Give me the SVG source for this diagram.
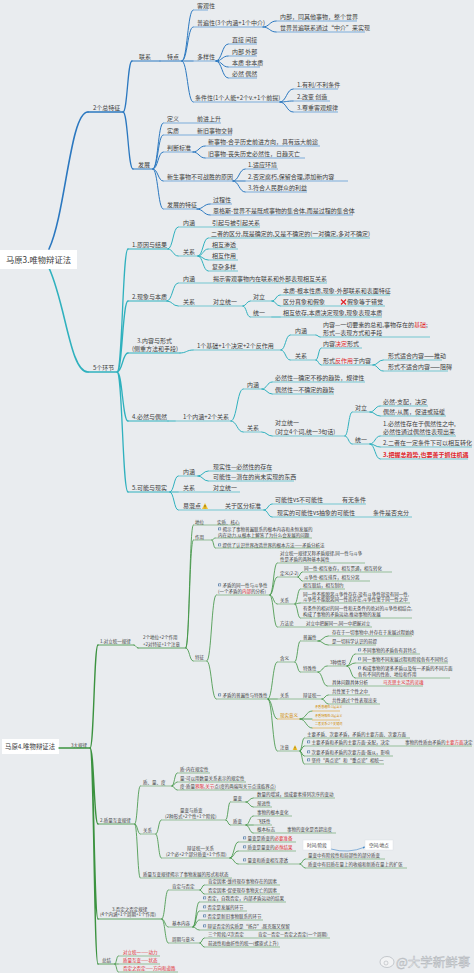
<svg xmlns="http://www.w3.org/2000/svg" width="474" height="973" viewBox="0 0 474 973">
<style>
text{font-family:"Noto Sans CJK SC","Noto Sans",sans-serif;fill:#3c3c3c}
.a{font-size:6px}
.b{font-size:4.5px}
.s{font-size:3.1px}
.r{fill:#e0262b}
.o{fill:#d18b00}
.cb,.ct,.cg{fill:none;stroke-linecap:round}
.cb{stroke:#2b78c0;stroke-width:1}
.ct{stroke:#2fb1be;stroke-width:1}
.cg{stroke:#3b923f;stroke-width:.8}
.ub{fill:none;stroke:#4f93d2;stroke-width:.7}
.ut{fill:none;stroke:#44b8c4;stroke-width:.7}
.ug{fill:none;stroke:#5fa35f;stroke-width:.6}
.uo{fill:none;stroke:#e0a12a;stroke-width:.6}
.wm{fill:#f3f4f5;stroke:#aeb2b7;stroke-width:.5}
</style>
<defs>
<symbol id="ic" viewBox="0 0 4 4"><rect x="0" y="0" width="4" height="4" rx=".5" fill="#5b7fa8"/><rect x="1" y="1" width="2" height="2" fill="#dfe6ee"/></symbol>
<symbol id="warn" viewBox="0 0 6 6"><polygon points="3,0 6,6 0,6" fill="#f0c02c"/><path d="M3 2V4.2M3 4.8V5.3" stroke="#5a4500" stroke-width=".7"/></symbol>
<marker id="ar" viewBox="0 0 6 6" refX="5" refY="3" markerWidth="4" markerHeight="4" orient="auto"><path d="M0 0L6 3L0 6z" fill="#3f87c9"/></marker>
</defs>
<rect width="474" height="973" fill="#e9ecef"/>

<g id="connectors">
<path class="cb" style="stroke-width:1.6" d="M49 249C66 212 70 112 88 112"/>
<path class="cb" style="stroke-width:1.3" d="M123 112C127.5 112 127.5 61 132 61M123 112C128 112 128 169 133 169"/>
<path class="cb" d="M182 61C187.5 61 187.5 10 193 10M182 61C187.5 61 187.5 27 193 27M182 61H193M182 61C187.5 61 187.5 102 193 102"/>
<path class="cb" d="M263 27C269.5 27 269.5 21 276 21M263 27C269.5 27 269.5 32 276 32"/>
<path class="cb" d="M216 61C222 61 222 44 228 44M216 61C222 61 222 56 228 56M216 61C222 61 222 67 228 67M216 61C222 61 222 78 228 78"/>
<path class="cb" d="M280 102C286.5 102 286.5 89 293 89M280 102C286.5 102 286.5 101 293 101M280 102C286.5 102 286.5 112 293 112"/>
<path class="cb" d="M153 169C158 169 158 123 163 123M153 169C158 169 158 135 163 135M153 169C158 169 158 152 163 152M153 169C158 169 158 181 163 181M153 169C158 169 158 209 163 209"/>
<path class="cb" d="M193 152C199 152 199 146 205 146M193 152C199 152 199 158 205 158"/>
<path class="cb" d="M233 181C239 181 239 169 245 169M233 181H245M233 181C239 181 239 192 245 192"/>
<path class="cb" d="M197 209C203.5 209 203.5 204 210 204M197 209C203.5 209 203.5 215 210 215"/>

<path class="ct" style="stroke-width:1.6" d="M49 268C66 305 70 372 88 372"/>
<path class="ct" style="stroke-width:1.3" d="M117 372C122.5 372 122.5 249 128 249M117 372C122.5 372 122.5 301 128 301M117 372C122.5 372 122.5 353 128 353M117 372C122.5 372 122.5 421 128 421M117 372C122.5 372 122.5 492 128 492"/>
<path class="ct" d="M168 249C173 249 173 227 178 227M168 249C173 249 173 256 178 256"/>
<path class="ct" d="M198 256C203 256 203 238 208 238M198 256C203 256 203 249 208 249M198 256C203 256 203 260 208 260M198 256C203 256 203 271 208 271"/>
<path class="ct" d="M167 301C172.5 301 172.5 283 178 283M167 301C172.5 301 172.5 306 178 306"/>
<path class="ct" d="M243 306C246.5 306 246.5 301 250 301M243 306C246.5 306 246.5 317 250 317"/>
<path class="ct" d="M272 301C276 301 276 295 280 295M272 301C276 301 276 306 280 306M272 317H280"/>
<path class="ct" d="M180 353C186.5 353 186.5 350 193 350"/>
<path class="ct" d="M281 350C285.5 350 285.5 335 290 335M281 350C285.5 350 285.5 360 290 360"/>
<path class="ct" d="M316 335C318 335 318 337 320 337M316 360C318.5 360 318.5 348 321 348M316 360C318.5 360 318.5 365 321 365"/>
<path class="ct" d="M373 365C378 365 378 360 383 360M373 365C378 365 378 371 383 371"/>
<path class="ct" d="M168 421H175M231 421C237 421 237 389 243 389M231 421C237 421 237 432 243 432"/>
<path class="ct" d="M262 389C267 389 267 382 272 382M262 389C267 389 267 394 272 394M262 432C267 432 267 436 272 436"/>
<path class="ct" d="M345 436C348.5 436 348.5 412 352 412M345 436C348.5 436 348.5 444 352 444"/>
<path class="ct" d="M370 412C375 412 375 406 380 406M370 412C375 412 375 416 380 416"/>
<path class="ct" d="M370 444C375 444 375 436 380 436M370 444C375 444 375 447 380 447M370 444C375 444 375 459 380 459"/>
<path class="ct" d="M170 492C174 492 174 476 178 476M170 492H178M170 492C174 492 174 510 178 510"/>
<path class="ct" d="M198 476C203 476 203 471 208 471M198 476C203 476 203 481 208 481"/>
<path class="ct" d="M264 510C268 510 268 504 272 504M264 510C268 510 268 517 272 517"/>

<path class="cg" style="stroke-width:1.4" d="M90 748C94 748 94 645 98 645M90 748C94 748 94 824 98 824M90 748C94 748 94 919 98 919M90 748C94 748 94 964 98 964"/>
<path class="cg" d="M134 645C136 645 136 648 138 648"/>
<path class="cg" d="M186 648C189.5 648 189.5 525 193 525M186 648C189.5 648 189.5 540 193 540M186 648C189.5 648 189.5 661 193 661"/>
<path class="cg" d="M212 540C213.5 540 213.5 538 215 538M212 540C213.5 540 213.5 548 215 548"/>
<path class="cg" d="M207 661C211.5 661 211.5 595 216 595M207 661C211.5 661 211.5 699 216 699"/>
<path class="cg" d="M270 595C273.5 595 273.5 563 277 563M270 595C273.5 595 273.5 577 277 577M270 595C273.5 595 273.5 604 277 604M270 595C273.5 595 273.5 627 277 627"/>
<path class="cg" d="M298 577C300 577 300 572 302 572M298 577C300 577 300 581 302 581"/>
<path class="cg" d="M295 604C297.5 604 297.5 589 300 589M295 604C297.5 604 297.5 603 300 603M295 604C297.5 604 297.5 618 300 618"/>
<path class="cg" d="M268 699C272.5 699 272.5 662 277 662M268 699H277M268 699C272.5 699 272.5 719 277 719M268 699C272.5 699 272.5 751 277 751"/>
<path class="cg" d="M295 662C297.5 662 297.5 641 300 641M295 662C297.5 662 297.5 672 300 672"/>
<path class="cg" d="M318 641C323 641 323 636 328 636M318 641C323 641 323 645 328 645"/>
<path class="cg" d="M318 672C322.5 672 322.5 666 327 666M318 672C322.5 672 322.5 686 327 686"/>
<path class="cg" d="M347 666C351 666 351 654 355 654M347 666C351 666 351 663 355 663M347 666C351 666 351 678 355 678"/>
<path class="cg" d="M322 699C325 699 325 695 328 695M322 699C325 699 325 704 328 704"/>
<path class="cg" d="M300 719C306 719 306 711 312 711M300 719H312M300 719C306 719 306 728 312 728"/>
<path class="cg" d="M300 751C302 751 302 738 304 738M300 751C302 751 302 746 304 746M300 751C302 751 302 756 304 756M300 751C302 751 302 764 304 764"/>
<path class="cg" d="M135 824C137.5 824 137.5 786 140 786M135 824C137.5 824 137.5 834 140 834M135 824C137.5 824 137.5 878 140 878"/>
<path class="cg" d="M172 786C174.5 786 174.5 773 177 773M172 786C174.5 786 174.5 782 177 782M172 786C174.5 786 174.5 790 177 790"/>
<path class="cg" d="M156 834C158.5 834 158.5 820 161 820M156 834C158.5 834 158.5 858 161 858"/>
<path class="cg" d="M226 820C228 820 228 802 230 802M226 820C228 820 228 825 230 825"/>
<path class="cg" d="M246 802C249.5 802 249.5 798 253 798M246 802C249.5 802 249.5 807 253 807"/>
<path class="cg" d="M246 825C249.5 825 249.5 816 253 816M246 825H253M246 825C249.5 825 249.5 833 253 833"/>
<path class="cg" d="M230 858C234 858 234 842 238 842M230 858C234 858 234 851 238 851M230 858C234 858 234 864 238 864"/>
<path class="cg" d="M300 864C302.5 864 302.5 859 305 859M300 864C302.5 864 302.5 868 305 868"/>
<path class="cg" d="M162 919C165 919 165 890 168 890M162 919C165 919 165 927 168 927M162 919C165 919 165 943 168 943"/>
<path class="cg" d="M200 890C202 890 202 885 204 885M200 890C202 890 202 894 204 894"/>
<path class="cg" d="M193 927C196 927 196 902 199 902M193 927C196 927 196 911 199 911M193 927C196 927 196 920 199 920M193 927C196 927 196 930 199 930"/>
<path class="cg" d="M200 943C202 943 202 938 204 938M200 943C202 943 202 947 204 947"/>
<path class="cg" d="M115 964C116.5 964 116.5 956 118 956M115 964H118M115 964C116.5 964 116.5 972 118 972"/>
<path fill="none" stroke="#3f87c9" stroke-width=".6" marker-end="url(#ar)" d="M331 849Q348 854 365 847"/>
</g>

<!-- ===== 马原3 ===== -->
<g id="title3"><rect x="0" y="250" width="77" height="19" fill="#fff"/><text x="6" y="262.5" font-size="8.3">马原3.唯物辩证法</text></g>
<g id="zongtezheng"><text class="a" x="93" y="110.2">2个总特征</text><path class="cb" style="stroke-width:1.3" d="M88 112H123"/></g>
<g id="lianxi"><text class="a" x="139" y="59">联系</text><path class="cb" d="M132 61H160"/></g>
<g id="tedian"><text class="a" x="167" y="59">特点</text><path class="cb" d="M160 61H182"/></g>
<g id="keguan"><text class="a" x="197" y="8">客观性</text><path class="ub" d="M193 10H208"/></g>
<g id="pubian"><text class="a" x="197" y="25">普遍性(3个内涵+1个中介)</text><path class="ub" d="M193 27H263"/></g>
<g id="pb1"><text class="a" x="280" y="19">内部，同其他事物，整个世界</text><path class="ub" d="M276 21H357"/></g>
<g id="pb2"><text class="a" x="280" y="30">世界普遍联系通过“中介”来实现</text><path class="ub" d="M276 32H365"/></g>
<g id="duoyang"><text class="a" x="197" y="59">多样性</text><path class="ub" d="M193 61H216"/></g>
<g id="dy1"><text class="a" x="232" y="42">直接 间接</text><path class="ub" d="M228 44H257"/></g>
<g id="dy2"><text class="a" x="232" y="54">内部 外部</text><path class="ub" d="M228 56H257"/></g>
<g id="dy3"><text class="a" x="232" y="65">本质 非本质</text><path class="ub" d="M228 67H260"/></g>
<g id="dy4"><text class="a" x="232" y="76">必然 偶然</text><path class="ub" d="M228 78H257"/></g>
<g id="tiaojian"><text class="a" x="195" y="100">条件性(1个人能+2个v.+1个前提)</text><path class="ub" d="M193 102H280"/></g>
<g id="tj1"><text class="a" x="297" y="87">1.有利/不利条件</text><path class="ub" d="M293 89H338"/></g>
<g id="tj2"><text class="a" x="297" y="99">2.改变 创造</text><path class="ub" d="M293 101H330"/></g>
<g id="tj3"><text class="a" x="297" y="110">3.尊重客观规律</text><path class="ub" d="M293 112H338"/></g>

<g id="fazhan"><text class="a" x="138" y="167">发展</text><path class="cb" d="M133 169H153"/></g>
<g id="dingyi"><text class="a" x="167" y="121">定义</text><path class="ub" d="M163 123H188"/></g>
<g id="dingyi1"><text class="a" x="197" y="121">前进上升</text><path class="ub" d="M188 123H221"/></g>
<g id="shizhi"><text class="a" x="167" y="133">实质</text><path class="ub" d="M163 135H188"/></g>
<g id="shizhi1"><text class="a" x="197" y="133">新旧事物交替</text><path class="ub" d="M188 135H232"/></g>
<g id="panduan"><text class="a" x="167" y="150">判断标准</text><path class="ub" d="M163 152H193"/></g>
<g id="pd1"><text class="a" x="208" y="144">新事物-合乎历史前进方向，具有远大前途</text><path class="ub" d="M205 146H320"/></g>
<g id="pd2"><text class="a" x="208" y="156">旧事物-丧失历史必然性，日趋灭亡</text><path class="ub" d="M205 158H305"/></g>
<g id="xinsheng"><text class="a" x="167" y="179">新生事物不可战胜的原因</text><path class="ub" d="M163 181H233"/></g>
<g id="xs1"><text class="a" x="248" y="167">1.适应环境</text><path class="ub" d="M245 169H278"/></g>
<g id="xs2"><text class="a" x="248" y="179">2.否定腐朽,保留合理,添加新内容</text><path class="ub" d="M245 181H348"/></g>
<g id="xs3"><text class="a" x="248" y="190">3.符合人民群众的利益</text><path class="ub" d="M245 192H307"/></g>
<g id="tezheng"><text class="a" x="167" y="207">发展的特征</text><path class="ub" d="M163 209H197"/></g>
<g id="tz1"><text class="a" x="213" y="202">过程性</text><path class="ub" d="M210 204H232"/></g>
<g id="tz2"><text class="a" x="213" y="213">恩格斯-世界不是既成事物的集合体,而是过程的集合体</text><path class="ub" d="M210 215H353"/></g>

<g id="huanjie"><text class="a" x="93" y="369.5">5个环节</text><path class="ct" style="stroke-width:1.3" d="M88 372H117"/></g>
<g id="yinguo"><text class="a" x="132" y="247">1.原因与结果</text><path class="ct" d="M128 249H168"/></g>
<g id="yg-nh"><text class="a" x="183" y="225">内涵</text><path class="ut" d="M178 227H205"/></g>
<g id="yg-nh1"><text class="a" x="212" y="225">引起与被引起关系</text><path class="ut" d="M205 227H260"/></g>
<g id="yg-gx"><text class="a" x="183" y="254">关系</text><path class="ut" d="M178 256H198"/></g>
<g id="yg1"><text class="a" x="211" y="236">二者的区分,既是确定的,又是不确定的(一对确定,多对不确定)</text><path class="ut" d="M208 238H370"/></g>
<g id="yg2"><text class="a" x="212" y="247">相互渗透</text><path class="ut" d="M208 249H238"/></g>
<g id="yg3"><text class="a" x="212" y="258">相互作用</text><path class="ut" d="M208 260H238"/></g>
<g id="yg4"><text class="a" x="212" y="269">复杂多样</text><path class="ut" d="M208 271H238"/></g>
<g id="xianxiang"><text class="a" x="132" y="299">2.现象与本质</text><path class="ct" d="M128 301H167"/></g>
<g id="xx-nh"><text class="a" x="183" y="281">内涵</text><path class="ut" d="M178 283H205"/></g>
<g id="xx-nh1"><text class="a" x="213" y="281">揭示客观事物内在联系和外部表现相互关系</text><path class="ut" d="M205 283H327"/></g>
<g id="xx-gx"><text class="a" x="183" y="304">关系</text><path class="ut" d="M178 306H205"/></g>
<g id="xx-dltyi"><text class="a" x="213" y="304">对立统一</text><path class="ut" d="M205 306H243"/></g>
<g id="xx-duili"><text class="a" x="253" y="299">对立</text><path class="ut" d="M250 301H272"/></g>
<g id="xx-dl1"><text class="a" x="283" y="293">本质-根本性质,现象-外部联系和表面特征</text><path class="ut" d="M280 295H390"/></g>
<g id="xx-dl2"><text class="a" x="283" y="304">区分真象和假象</text><path d="M341 299.5L346 304.5M346 299.5L341 304.5" stroke="#e0262b" stroke-width="1.3"/><text class="a" x="347" y="304">假象等于错觉</text><path class="ut" d="M280 306H385"/></g>
<g id="xx-tongyi"><text class="a" x="253" y="315">统一</text><path class="ut" d="M250 317H272"/></g>
<g id="xx-ty1"><text class="a" x="283" y="315">相互依存,本质决定现象,现象表现本质</text><path class="ut" d="M280 317H382"/></g>
<g id="neirong"><text class="a" x="137" y="343">3.内容与形式</text><text class="a" x="132" y="351">(侧重方法和手段)</text><path class="ct" d="M128 353H180"/></g>
<g id="nr-jichu"><text class="a" x="197" y="348">1个基础+1个决定+2个反作用</text><path class="ut" d="M193 350H281"/></g>
<g id="nr-nh"><text class="a" x="295" y="333">内涵</text><path class="ut" d="M290 335H316"/></g>
<g id="nr-nh1"><text class="a" x="323" y="327">内容—一切要素的总和,事物存在的<tspan class="r">基础</tspan>;</text><text class="a" x="323" y="335">形式—表现方式和手段</text><path class="ut" d="M320 337H430"/></g>
<g id="nr-gx"><text class="a" x="295" y="358">关系</text><path class="ut" d="M290 360H316"/></g>
<g id="nr-gx1"><text class="a" x="323" y="346">内容<tspan class="r">决定</tspan>形式</text><path class="ut" d="M321 348H362"/></g>
<g id="nr-gx2"><text class="a" x="323" y="363">形式<tspan class="r">反作用</tspan>于内容</text><path class="ut" d="M321 365H373"/></g>
<g id="nr-gx21"><text class="a" x="388" y="358">形式适合内容——推动</text><path class="ut" d="M383 360H442"/></g>
<g id="nr-gx22"><text class="a" x="388" y="369">形式不适合内容——阻碍</text><path class="ut" d="M383 371H448"/></g>
<g id="biran"><text class="a" x="132" y="419">4.必然与偶然</text><path class="ct" d="M128 421H168"/></g>
<g id="br-1"><text class="a" x="183" y="419">1个内涵+2个关系</text><path class="ut" d="M175 421H231"/></g>
<g id="br-nh"><text class="a" x="247" y="387">内涵</text><path class="ut" d="M243 389H262"/></g>
<g id="br-nh1"><text class="a" x="275" y="380">必然性—确定不移的趋势，规律性</text><path class="ut" d="M272 382H365"/></g>
<g id="br-nh2"><text class="a" x="275" y="392">偶然性—不确定的趋势</text><path class="ut" d="M272 394H334"/></g>
<g id="br-gx"><text class="a" x="247" y="430">关系</text><path class="ut" d="M243 432H262"/></g>
<g id="br-dlty"><text class="a" x="275" y="425">对立统一</text><text class="a" x="275" y="434">(对立4个词,统一3句话)</text><path class="ut" d="M272 436H345"/></g>
<g id="br-duili"><text class="a" x="355" y="410">对立</text><path class="ut" d="M352 412H370"/></g>
<g id="br-dl1"><text class="a" x="383" y="404">必然-支配，决定</text><path class="ut" d="M380 406H428"/></g>
<g id="br-dl2"><text class="a" x="383" y="414">偶然-从属，促进或延缓</text><path class="ut" d="M380 416H446"/></g>
<g id="br-tongyi"><text class="a" x="355" y="442">统一</text><path class="ut" d="M352 444H370"/></g>
<g id="br-ty1"><text class="a" x="383" y="426">1.必然性存在于偶然性之中,</text><text class="a" x="383" y="434">必然性通过偶然性表现出来</text><path class="ut" d="M380 436H456"/></g>
<g id="br-ty2"><text class="a" x="383" y="445">2.二者在一定条件下可以相互转化</text><path class="ut" d="M380 447H472"/></g>
<g id="br-ty3"><text class="a r" x="383" y="457" font-weight="bold">3.把握总趋势,也要善于抓住机遇</text><path class="ut" d="M380 459H468"/></g>
<g id="keneng"><text class="a" x="132" y="490">5.可能与现实</text><path class="ct" d="M128 492H170"/></g>
<g id="kn-nh"><text class="a" x="183" y="474">内涵</text><path class="ut" d="M178 476H198"/></g>
<g id="kn-nh1"><text class="a" x="213" y="469">现实性—必然性的存在</text><path class="ut" d="M208 471H272"/></g>
<g id="kn-nh2"><text class="a" x="213" y="479">可能性—潜在的尚未实现的东西</text><path class="ut" d="M208 481H294"/></g>
<g id="kn-gx"><text class="a" x="183" y="490">关系</text><path class="ut" d="M178 492H205"/></g>
<g id="kn-gx1"><text class="a" x="213" y="490">对立统一</text><path class="ut" d="M205 492H240"/></g>
<g id="kn-yh"><text class="a" x="183" y="508">易混点</text><use href="#warn" x="202" y="503" width="6" height="6"/><path class="ut" d="M178 510H212"/></g>
<g id="kn-yh1"><text class="a" x="225" y="508">关于区分标准</text><path class="ut" d="M212 510H264"/></g>
<g id="kn-yh2"><text class="a" x="275" y="502">可能性vs不可能性</text><text class="a" x="342" y="502">有无条件</text><path class="ut" d="M272 504H366"/></g>
<g id="kn-yh3"><text class="a" x="277" y="515">现实的可能性vs抽象的可能性</text><text class="a" x="373" y="515">条件是否充分</text><path class="ut" d="M272 517H412"/></g>

<!-- ===== 马原4 ===== -->
<g id="title4"><rect x="2" y="739" width="57" height="15" fill="#fff"/><text x="5" y="749" font-size="6.4">马原4.唯物辩证法</text></g>
<g id="guilv"><text class="b" x="71" y="746.6">3大规律</text><path class="cg" style="stroke-width:1.4" d="M59 748H90"/></g>
<g id="dlty"><text class="b" x="100" y="642.6">1.对立统一规律</text><path class="cg" d="M98 645H134"/></g>
<g id="dlty-sum"><text class="b" x="143" y="638.6">2个地位+2个作用</text><text class="b" x="143" y="645.6">+2对特征+1个注意</text><path class="cg" d="M138 648H186"/></g>
<g id="diwei"><text class="b" x="195" y="523.6">地位</text><path class="ug" d="M193 525H212"/></g>
<g id="diwei1"><text class="b" x="217" y="523.6">实质、核心</text><path class="ug" d="M212 525H240"/></g>
<g id="zuoyong"><text class="b" x="195" y="538.6">作用</text><path class="ug" d="M193 540H212"/></g>
<g id="zy1"><use href="#ic" x="218" y="527.3" width="3.3" height="3.3"/><text class="b" x="222.5" y="530.6">揭示了事物普遍联系的根本内容和永恒发展的</text><text class="b" x="218" y="536.6">内在动力,从根本上解答了为什么会发展的问题</text><path class="ug" d="M215 538H312"/></g>
<g id="zy2"><use href="#ic" x="218" y="543.3" width="3.3" height="3.3"/><text class="b" x="222.5" y="546.6">提供了认识世界改造世界的根本方法——矛盾分析法</text><path class="ug" d="M215 548H320"/></g>
<g id="tz"><text class="b" x="195" y="658.6">特征</text><path class="ug" d="M193 661H207"/></g>
<g id="tongyixing"><use href="#ic" x="218" y="583.3" width="3.3" height="3.3"/><text class="b" x="222.5" y="586.6">矛盾的同一性与斗争性</text><text class="b" x="218" y="592.6">(一个矛盾的<tspan class="r">内部</tspan>的分析)</text><path class="ug" d="M216 595H270"/></g>
<g id="ty-def0"><text class="b" x="280" y="554.6">对立统一规律又称矛盾规律,同一性与斗争</text><text class="b" x="280" y="560.6">性是矛盾的两种基本属性</text><path class="ug" d="M277 563H365"/></g>
<g id="ty-def"><text class="b" x="280" y="574.6">定义(2-2)</text><path class="ug" d="M277 577H298"/></g>
<g id="ty-def1"><text class="b" x="304" y="569.6">同一性-相互依存，相互贯通，相互转化</text><path class="ug" d="M302 572H392"/></g>
<g id="ty-def2"><text class="b" x="304" y="578.6">斗争性-相互排斥，相互分离</text><path class="ug" d="M302 581H370"/></g>
<g id="ty-gx"><text class="b" x="280" y="601.6">关系</text><path class="ug" d="M277 604H295"/></g>
<g id="ty-gx1"><text class="b" x="303" y="586.6">相互联结，相互制约</text><path class="ug" d="M300 589H345"/></g>
<g id="ty-gx2"><text class="b" x="303" y="595.6">同一性不能脱离斗争性存在,没有斗争性就没有同一性,</text><text class="b" x="303" y="601.1">斗争性不能脱离同一性而存在,斗争性寓于同一性之中</text><path class="ug" d="M300 603H410"/></g>
<g id="ty-gx3"><text class="b" x="303" y="609.6">有条件的相对的同一性和无条件的绝对的斗争性相结合,</text><text class="b" x="303" y="615.6">构成了事物的矛盾运动,推动事物的发展</text><path class="ug" d="M300 618H412"/></g>
<g id="ty-ff"><text class="b" x="280" y="624.6">方法论</text><path class="ug" d="M277 627H300"/></g>
<g id="ty-ff1"><text class="b" x="306" y="624.6">对立中把握同一,同一中把握对立</text><path class="ug" d="M300 627H372"/></g>
<g id="pubianxing"><use href="#ic" x="218" y="693.3" width="3.3" height="3.3"/><text class="b" x="222.5" y="696.6">矛盾的普遍性与特殊性</text><path class="ug" d="M216 699H268"/></g>
<g id="pb-hy"><text class="b" x="280" y="659.6">含义</text><path class="ug" d="M277 662H295"/></g>
<g id="pb-pb"><text class="b" x="303" y="638.6">普遍性</text><path class="ug" d="M300 641H318"/></g>
<g id="pb-pb1"><text class="b" x="332" y="633.6">存在于一切事物中,并存在于发展过程始终</text><path class="ug" d="M328 636H412"/></g>
<g id="pb-pb2"><text class="b" x="332" y="642.6">是一切科学认识的前提</text><path class="ug" d="M328 645H376"/></g>
<g id="pb-ts"><text class="b" x="303" y="669.6">特殊性</text><path class="ug" d="M300 672H318"/></g>
<g id="pb-ts3"><text class="b" x="330" y="663.6">3种情形</text><path class="ug" d="M327 666H347"/></g>
<g id="pb-ts31"><use href="#ic" x="358" y="648.3" width="3.3" height="3.3"/><text class="b" x="362.5" y="651.6">不同事物的矛盾各有其特点</text><path class="ug" d="M355 654H420"/></g>
<g id="pb-ts32"><use href="#ic" x="358" y="657.3" width="3.3" height="3.3"/><text class="b" x="362.5" y="660.6">同一事物不同发展过程和阶段各有不同特点</text><path class="ug" d="M355 663H448"/></g>
<g id="pb-ts33"><use href="#ic" x="358" y="666.3" width="3.3" height="3.3"/><text class="b" x="362.5" y="669.6">构成事物的诸多矛盾以及每一矛盾的不同方面</text><text class="b" x="358" y="675.6">各有不同的性质、地位和作用</text><path class="ug" d="M355 678H450"/></g>
<g id="pb-jt"><text class="b" x="332" y="683.6">具体问题具体分析</text><text class="b r" x="383" y="683.6">马克思主义活的灵魂</text><path class="ug" d="M327 686H423"/></g>
<g id="pb-gx"><text class="b" x="280" y="696.6">关系</text><path class="ug" d="M277 699H297"/></g>
<g id="pb-gx0"><text class="b" x="303" y="696.6">辩证统一</text><path class="ug" d="M297 699H322"/></g>
<g id="pb-gx1"><text class="b" x="332" y="692.6">共性寓于个性之中</text><path class="ug" d="M328 695H370"/></g>
<g id="pb-gx2"><text class="b" x="332" y="701.6">共性通过个性表现出来</text><path class="ug" d="M328 704H380"/></g>
<g id="pb-yy"><text class="b o" x="280" y="716.6">现实意义</text><path class="uo" d="M277 719H300"/></g>
<g id="pb-yy1"><text class="s o" x="315" y="708.2">矛盾普遍性:1层含义</text><path class="uo" d="M312 711H340"/></g>
<g id="pb-yy2"><text class="s o" x="315" y="717.2">矛盾特殊性:3层含义</text><path class="uo" d="M312 720H340"/></g>
<g id="pb-yy3"><text class="s o" x="315" y="725.2">二者关系:2个关键词</text><path class="uo" d="M312 728H340"/></g>
<g id="pb-zy"><text class="b" x="280" y="748.6">注意</text><use href="#warn" x="292.5" y="745" width="5" height="5"/><path class="ug" d="M277 751H300"/></g>
<g id="zy-1"><text class="b" x="307" y="735.6">主要矛盾、次要矛盾，矛盾的主要方面、次要方面</text><path class="ug" d="M304 738H410"/></g>
<g id="zy-2"><use href="#ic" x="307" y="740.3" width="3.3" height="3.3"/><text class="b" x="311.5" y="743.6">主要矛盾和矛盾的主要方面-支配，决定</text><text class="b" x="405" y="743.6">事物的性质由矛盾的<tspan class="r">主要方面</tspan>决定</text><path class="ug" d="M304 746H472"/></g>
<g id="zy-3"><use href="#ic" x="307" y="750.3" width="3.3" height="3.3"/><text class="b" x="311.5" y="753.6">次要矛盾和矛盾的次要方面-服从，影响</text><path class="ug" d="M304 756H393"/></g>
<g id="zy-4"><use href="#ic" x="307" y="758.3" width="3.3" height="3.3"/><text class="b" x="311.5" y="761.6">坚持“两点论”和“重点论”相统一</text><path class="ug" d="M304 764H384"/></g>

<g id="zlhb"><text class="b" x="100" y="821.6">2.质量互变规律</text><path class="cg" d="M98 824H135"/></g>
<g id="zld"><text class="b" x="143" y="783.6">质、量、度</text><path class="ug" d="M140 786H172"/></g>
<g id="zld1"><text class="b" x="180" y="770.6">质-内在规定性</text><path class="ug" d="M177 773H210"/></g>
<g id="zld2"><text class="b" x="180" y="779.6">量-可以用数量关系表示的规定性</text><path class="ug" d="M177 782H246"/></g>
<g id="zld3"><text class="b" x="180" y="787.6">度-质量<tspan class="r">界限</tspan>,<tspan class="r">关节</tspan>点(度的两端叫关节点或临界点)</text><path class="ug" d="M177 790H276"/></g>
<g id="zl-gx"><text class="b" x="143" y="831.6">关系</text><path class="ug" d="M140 834H156"/></g>
<g id="lbzb"><text class="b" x="180" y="811.6">量变与质变</text><text class="b" x="165" y="817.6">(2种形式+2个性+1个阶段)</text><path class="ug" d="M161 820H226"/></g>
<g id="liangbian"><text class="b" x="233" y="799.6">量变</text><path class="ug" d="M230 802H246"/></g>
<g id="lb1"><text class="b" x="257" y="795.6">数量的增减，组成要素排列次序的变动</text><path class="ug" d="M253 798H335"/></g>
<g id="lb2"><text class="b" x="257" y="804.6">渐进性</text><path class="ug" d="M253 807H272"/></g>
<g id="zhibian"><text class="b" x="233" y="822.6">质变</text><path class="ug" d="M230 825H246"/></g>
<g id="zb1"><text class="b" x="257" y="813.6">事物的根本变化</text><path class="ug" d="M253 816H292"/></g>
<g id="zb2"><text class="b" x="257" y="822.6">飞跃性</text><path class="ug" d="M253 825H272"/></g>
<g id="zb3"><text class="b" x="257" y="830.6">根本标志</text><text class="b" x="287" y="830.6">事物的变化是否超出度</text><path class="ug" d="M253 833H336"/></g>
<g id="bzty"><text class="b" x="187" y="849.6">辩证统一关系</text><text class="b" x="166" y="855.6">(2个必+2个部分质变+1个作用)</text><path class="ug" d="M161 858H230"/></g>
<g id="bz1"><use href="#ic" x="243" y="836.3" width="3.3" height="3.3"/><text class="b" x="247.5" y="839.6">量变是质变的<tspan class="r">必要准备</tspan></text><path class="ug" d="M238 842H296"/></g>
<g id="bz2"><use href="#ic" x="243" y="845.3" width="3.3" height="3.3"/><text class="b" x="247.5" y="848.6">质变是量变的<tspan class="r">必然结果</tspan></text><path class="ug" d="M238 851H296"/></g>
<g id="bz3"><use href="#ic" x="243" y="858.3" width="3.3" height="3.3"/><text class="b" x="247.5" y="861.6">量变和质变相互渗透</text><path class="ug" d="M238 864H300"/></g>
<g id="bz31"><text class="b" x="308" y="856.6">量变中有阶段性和局部性的部分质变</text><path class="ug" d="M305 859H385"/></g>
<g id="bz32"><text class="b" x="308" y="865.6">质变中有旧质在量上的收缩和新质在量上的扩张</text><path class="ug" d="M305 868H407"/></g>
<g id="box-time"><rect x="303" y="840" width="28" height="10" fill="#fff" stroke="#d8dde2" stroke-width=".4"/><text class="b" x="307" y="846.6">时间/阶段</text></g>
<g id="box-space"><rect x="365" y="840" width="28" height="10" fill="#fff" stroke="#d8dde2" stroke-width=".4"/><text class="b" x="369" y="846.6">空间/地点</text></g>
<g id="zl-jieshi"><text class="b" x="143" y="875.6">质量互变规律揭示了事物发展的形式和状态</text><path class="ug" d="M140 878H232"/></g>

<g id="fdzfd"><text class="b" x="112" y="910.6">3.否定之否定规律</text><text class="b" x="100" y="916.1">(4个内涵+1个周期+1个作用)</text><path class="cg" d="M98 919H162"/></g>
<g id="kdfd"><text class="b" x="172" y="887.6">肯定与否定</text><path class="ug" d="M168 890H200"/></g>
<g id="kd1"><text class="b" x="208" y="882.6">肯定因素-维持现存事物存在的因素</text><path class="ug" d="M204 885H280"/></g>
<g id="kd2"><text class="b" x="208" y="891.6">否定因素-促使现存事物灭亡的因素</text><path class="ug" d="M204 894H280"/></g>
<g id="jbnr"><text class="b" x="172" y="924.6">基本内容</text><path class="ug" d="M168 927H193"/></g>
<g id="jb1"><use href="#ic" x="203" y="896.3" width="3.3" height="3.3"/><text class="b" x="207.5" y="899.6">否定，自我否定，内部矛盾运动的结果</text><path class="ug" d="M199 902H286"/></g>
<g id="jb2"><use href="#ic" x="203" y="905.3" width="3.3" height="3.3"/><text class="b" x="207.5" y="908.6">否定是发展的环节</text><path class="ug" d="M199 911H247"/></g>
<g id="jb3"><use href="#ic" x="203" y="914.3" width="3.3" height="3.3"/><text class="b" x="207.5" y="917.6">否定是新旧事物联系的环节</text><path class="ug" d="M199 920H263"/></g>
<g id="jb4"><use href="#ic" x="203" y="924.3" width="3.3" height="3.3"/><text class="b" x="207.5" y="927.6">辩证否定的实质是“扬弃”,既克服又保留</text><path class="ug" d="M199 930H290"/></g>
<g id="zqyy"><text class="b" x="172" y="940.6">周期与意义</text><path class="ug" d="M168 943H200"/></g>
<g id="zq1"><text class="b" x="208" y="935.6">三个阶段/2次否定</text><text class="b" x="258" y="935.6">肯定—否定—否定之否定(一个周期)</text><path class="ug" d="M204 938H330"/></g>
<g id="zq2"><text class="b" x="208" y="944.6">前进性和曲折性的统一(螺旋式上升)</text><path class="ug" d="M204 947H280"/></g>

<g id="zongjie"><text class="b" x="102" y="961.6">总结</text><path class="cg" d="M98 964H115"/></g>
<g id="zj1"><text class="b r" x="123" y="953.6">对立统一——动力</text><path class="ug" d="M118 956H160"/></g>
<g id="zj2"><text class="b r" x="123" y="961.6">质量互变——状态</text><path class="ug" d="M118 964H160"/></g>
<g id="zj3"><text class="b r" x="123" y="969.6">否定之否定——方向和道路</text><path class="ug" d="M118 972H178"/></g>

<g id="watermark" opacity=".9">
<ellipse cx="387" cy="962" rx="7" ry="5.5" fill="#f3f4f5" stroke="#aeb2b7" stroke-width=".7"/>
<circle cx="386" cy="963" r="2" fill="none" stroke="#aeb2b7" stroke-width=".6"/>
<text class="wm" x="396" y="967" font-size="12.5">@大学新鲜事</text>
</g>
</svg>
